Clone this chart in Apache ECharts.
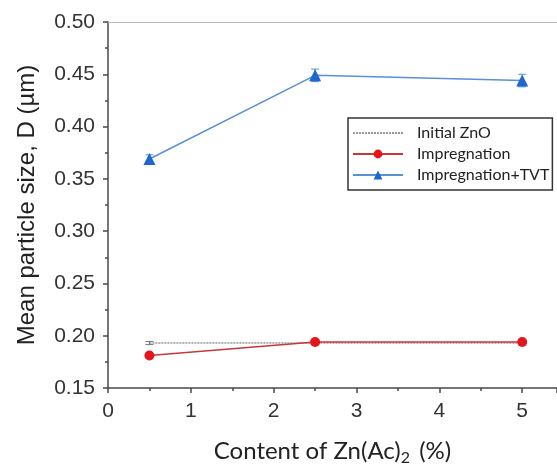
<!DOCTYPE html>
<html>
<head>
<meta charset="utf-8">
<script src="https://cdn.jsdelivr.net/npm/echarts@6/dist/echarts.min.js"></script>
<style>
  html, body { margin: 0; padding: 0; background: #fff; }
  #chart { width: 557px; height: 464px; }
</style>
</head>
<body>
<div id="chart"></div>
<script>
const contents = [0.5, 2.5, 5];
const initialZnO = [0.193, 0.193, 0.193];
const initialZnOErr = [0.0015, 0.0015, 0.0015];
const impregnation = [0.181, 0.194, 0.194];
const impregnationErr = [0.001, 0.001, 0.001];
const impregnationTVT = [0.369, 0.449, 0.444];
const impregnationTVTErr = [0.004, 0.006, 0.006];
const yTicks = { min: 0.15, max: 0.5, step: 0.05 };

const chart = echarts.init(document.getElementById("chart"));

function pairs(ys) {
  return contents.map((x, i) => [x, ys[i]]);
}
function errPairs(ys, errs) {
  return contents.map((x, i) => [x, ys[i], errs[i]]);
}

// error bars drawn as a custom series
function errorBars(name, ys, errs, color) {
  return {
    name: name,
    type: "custom",
    data: errPairs(ys, errs),
    encode: { x: 0, y: 1 },
    z: 3,
    silent: true,
    renderItem(params, api) {
      const x = api.value(0), y = api.value(1), e = api.value(2);
      const top = api.coord([x, y + e]);
      const bot = api.coord([x, y - e]);
      const w = 4;
      const style = { stroke: color, lineWidth: 1 };
      return {
        type: "group",
        children: [
          { type: "line", shape: { x1: top[0], y1: top[1], x2: bot[0], y2: bot[1] }, style },
          { type: "line", shape: { x1: top[0] - w, y1: top[1], x2: top[0] + w, y2: top[1] }, style },
          { type: "line", shape: { x1: bot[0] - w, y1: bot[1], x2: bot[0] + w, y2: bot[1] }, style },
        ],
      };
    },
  };
}

const axisColor = "#4a4a4a";

chart.setOption({
  animation: false,
  grid: { left: 108, top: 22, right: 0, bottom: 76, outerBoundsMode: "none" },
  legend: {
    orient: "vertical",
    left: 348,
    top: 118,
    data: [
      { name: "Initial ZnO", itemStyle: { opacity: 0 } },
      "Impregnation",
      "Impregnation+TVT",
    ],
    itemWidth: 50,
    itemHeight: 11,
    itemGap: 5,
    padding: [7, 3, 7, 4],
    borderColor: "#333",
    borderWidth: 1.5,
    borderRadius: 0,
    backgroundColor: "#fff",
    textStyle: { fontFamily: "Lato", fontSize: 16, color: "#222", padding: [0, 0, 0, 9] },
  },
  xAxis: [
    {
      type: "value",
      min: 0,
      max: 5.42,
      interval: 1,
      name: "Content of Zn(Ac){sub|2} (%)",
      nameLocation: "middle",
      nameGap: 48,
      nameTextStyle: {
        fontFamily: "Lato",
        fontSize: 24,
        color: "#222",
        rich: {
          sub: { fontFamily: "Lato", fontSize: 16, color: "#222", padding: [14, 3, 0, 0] },
        },
      },
      axisLine: { show: true, lineStyle: { color: axisColor, width: 1.5 } },
      axisTick: { show: true, inside: false, length: 5, lineStyle: { color: axisColor, width: 1.5 } },
      minorTick: { show: true, splitNumber: 2, length: 3, lineStyle: { color: axisColor, width: 1.5 } },
      splitLine: { show: false },
      axisLabel: {
        margin: 13,
        fontFamily: "Liberation Sans",
        fontSize: 21,
        color: "#333",
        formatter: (v) => (Number.isInteger(v) ? String(v) : ""),
      },
    },
    {
      type: "value",
      position: "top",
      min: 0,
      max: 5.42,
      axisLine: { show: true, onZero: false, lineStyle: { color: "#bbb", width: 1 } },
      axisTick: { show: false },
      axisLabel: { show: false },
      splitLine: { show: false },
    },
  ],
  yAxis: {
    type: "value",
    min: yTicks.min,
    max: yTicks.max,
    interval: yTicks.step,
    name: "Mean particle size, D (\u00b5m)",
    nameLocation: "middle",
    nameGap: 69,
    nameTextStyle: { fontFamily: "Liberation Sans", fontSize: 24, color: "#222" },
    axisLine: { show: true, lineStyle: { color: axisColor, width: 1.5 } },
    axisTick: { show: true, inside: false, length: 5, lineStyle: { color: axisColor, width: 1.5 } },
    minorTick: { show: true, splitNumber: 2, length: 3, lineStyle: { color: axisColor, width: 1.5 } },
    splitLine: { show: false },
    axisLabel: {
      margin: 13,
      fontFamily: "Liberation Sans",
      fontSize: 21,
      color: "#333",
      formatter: (v) => v.toFixed(2),
    },
  },
  series: [
    {
      name: "Initial ZnO",
      type: "line",
      data: pairs(initialZnO),
      symbol: "none",
      lineStyle: { color: "#999", width: 1.5, type: [2, 1] },
      itemStyle: { color: "#999" },
      z: 2,
    },
    errorBars("Initial ZnO", initialZnO, initialZnOErr, "#777"),
    {
      name: "Impregnation",
      type: "line",
      data: pairs(impregnation),
      symbol: "circle",
      symbolSize: 10,
      lineStyle: { color: "#c8373a", width: 1.5 },
      itemStyle: { color: "#e5151c" },
      z: 4,
    },
    errorBars("Impregnation", impregnation, impregnationErr, "#c8373a"),
    {
      name: "Impregnation+TVT",
      type: "line",
      data: pairs(impregnationTVT),
      symbol: "triangle",
      symbolSize: 12,
      lineStyle: { color: "#5b8fd6", width: 1.5 },
      itemStyle: { color: "#1d67cf" },
      z: 4,
    },
    errorBars("Impregnation+TVT", impregnationTVT, impregnationTVTErr, "#5b8fd6"),
  ],
});
</script>
</body>
</html>
